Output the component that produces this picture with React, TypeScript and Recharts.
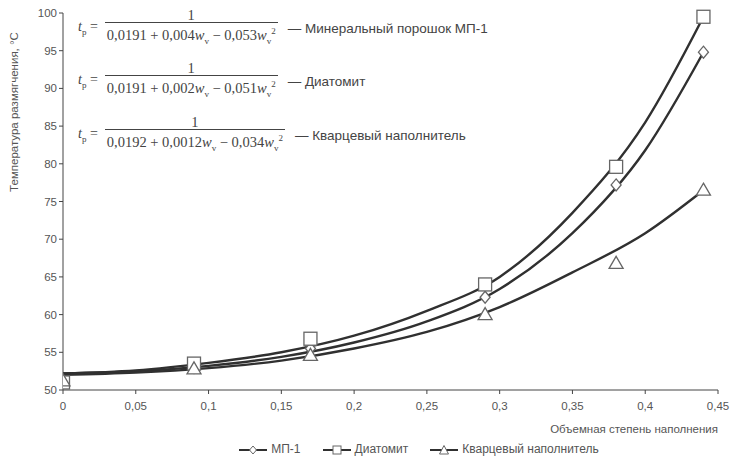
import React from 'react';
import { ComposedChart, Line, Scatter, XAxis, YAxis } from 'recharts';

// fitted curves
const curveX = [0, 0.05, 0.1, 0.15, 0.2, 0.25, 0.3, 0.35, 0.4, 0.44];
const mp1Curve = [52.2, 52.5, 53.2, 54.4, 56.3, 59.1, 63.4, 70.8, 81.8, 94.8];
const diatomCurve = [52.2, 52.6, 53.6, 55.0, 57.2, 60.5, 65.0, 73.5, 85.5, 99.5];
const quartzCurve = [52.0, 52.3, 52.9, 53.9, 55.5, 57.7, 61.0, 65.6, 70.8, 76.5];

// measured points
const pointX = [0, 0.09, 0.17, 0.29, 0.38, 0.44];
const mp1Points = [51.3, 53.0, 55.5, 62.3, 77.2, 94.8];
const diatomPoints = [51.0, 53.5, 56.8, 64.0, 79.6, 99.5];
const quartzPoints = [51.2, 52.8, 54.6, 60.0, 66.8, 76.5];

const xTicks = [0, 0.05, 0.1, 0.15, 0.2, 0.25, 0.3, 0.35, 0.4, 0.45];
const yTicks = [50, 55, 60, 65, 70, 75, 80, 85, 90, 95, 100];

const seriesNames = ['МП-1', 'Диатомит', 'Кварцевый наполнитель'];
const formulaLabels = ['Минеральный порошок МП-1', 'Диатомит', 'Кварцевый наполнитель'];
const denominators = [
  ['0,0191', '0,004', '0,053'],
  ['0,0191', '0,002', '0,051'],
  ['0,0192', '0,0012', '0,034'],
];

const toRows = (xs: number[], ys: number[]) => xs.map((x, i) => ({ x, y: ys[i] }));

const sans = '"Liberation Sans", Arial, sans-serif';
const serif = '"Liberation Serif", "DejaVu Serif", serif';
const lineColor = '#303030';
const markColor = '#666';
const textColor = '#555';

const Diamond = (p: any) => (
  <path d={`M${p.cx},${p.cy - 6} L${p.cx + 5},${p.cy} L${p.cx},${p.cy + 6} L${p.cx - 5},${p.cy} Z`}
    fill="#fff" stroke={markColor} strokeWidth={1.3} />
);
const Square = (p: any) => (
  <rect x={p.cx - 6.5} y={p.cy - 6.5} width={13} height={13} fill="#fff" stroke={markColor} strokeWidth={1.3} />
);
const Triangle = (p: any) => (
  <path d={`M${p.cx},${p.cy - 7} L${p.cx + 7},${p.cy + 5} L${p.cx - 7},${p.cy + 5} Z`}
    fill="#fff" stroke={markColor} strokeWidth={1.3} />
);

const legendIcon = (i: number) => {
  const mark = i === 0
    ? <path d="M14,2 L17.5,6 L14,10 L10.5,6 Z" fill="#fff" stroke={markColor} />
    : i === 1
      ? <rect x={10} y={2} width={8} height={8} fill="#fff" stroke={markColor} />
      : <path d="M14,1.5 L18.5,10 L9.5,10 Z" fill="#fff" stroke={markColor} />;
  return (
    <svg width={28} height={12} style={{ verticalAlign: 'middle', marginRight: 4 }}>
      <line x1={0} y1={6} x2={28} y2={6} stroke={lineColor} strokeWidth={2} />
      {mark}
    </svg>
  );
};

function Formula({ top, idx }: { top: number; idx: number }) {
  const d = denominators[idx];
  return (
    <div style={{ position: 'absolute', left: 78, top, display: 'flex', alignItems: 'center', color: '#444', whiteSpace: 'nowrap' }}>
      <span style={{ fontFamily: serif, fontSize: 14, marginRight: 7 }}>
        <i>t</i><sub style={{ fontSize: 9 }}>р</sub> =
      </span>
      <span style={{ display: 'inline-flex', flexDirection: 'column', alignItems: 'center', fontFamily: serif, fontSize: 14.5 }}>
        <span style={{ lineHeight: '14px' }}>1</span>
        <span style={{ borderTop: '1px solid #444', padding: '0 2px', lineHeight: '16px' }}>
          {d[0]} + {d[1]}<i>w</i><sub style={{ fontSize: 9 }}>v</sub> − {d[2]}<i>w</i><sub style={{ fontSize: 9 }}>v</sub><sup style={{ fontSize: 9 }}>2</sup>
        </span>
      </span>
      <span style={{ fontFamily: sans, fontSize: 13.5, marginLeft: 10 }}>— {formulaLabels[idx]}</span>
    </div>
  );
}

export default function App() {
  return (
    <div style={{ position: 'fixed', left: 0, top: 0, width: 738, height: 463, background: '#fff' }}>
      <ComposedChart width={738} height={463} margin={{ top: 13, right: 20, bottom: 43, left: 0 }}>
        <XAxis
          type="number"
          dataKey="x"
          domain={[0, 0.45]}
          ticks={xTicks}
          tickFormatter={(v) => String(v).replace('.', ',')}
          stroke="#444"
          tick={{ fill: textColor, fontSize: 11.5, fontFamily: sans }}
          tickSize={4}
          tickMargin={8}
          allowDataOverflow
          label={{
            content: () => (
              <text x={718} y={433} textAnchor="end" fill={textColor} fontSize={11.5} fontFamily={sans}>
                Объемная степень наполнения
              </text>
            ),
          }}
        />
        <YAxis
          type="number"
          domain={[50, 100]}
          ticks={yTicks}
          width={63}
          stroke="#444"
          tick={{ fill: textColor, fontSize: 11.5, fontFamily: sans }}
          tickSize={4}
          tickMargin={2}
          label={{
            content: () => (
              <text x={18} y={112} transform="rotate(-90 18 112)" textAnchor="middle" fill={textColor} fontSize={11.5} fontFamily={sans}>
                Температура размягчения, °С
              </text>
            ),
          }}
        />
        <Line data={toRows(curveX, diatomCurve)} dataKey="y" type="monotone" stroke={lineColor} strokeWidth={2.4} dot={false} isAnimationActive={false} legendType="none" />
        <Line data={toRows(curveX, mp1Curve)} dataKey="y" type="monotone" stroke={lineColor} strokeWidth={2.4} dot={false} isAnimationActive={false} legendType="none" />
        <Line data={toRows(curveX, quartzCurve)} dataKey="y" type="monotone" stroke={lineColor} strokeWidth={2.4} dot={false} isAnimationActive={false} legendType="none" />
        <Scatter data={toRows(pointX, mp1Points)} dataKey="y" shape={Diamond} isAnimationActive={false} />
        <Scatter data={toRows(pointX, diatomPoints)} dataKey="y" shape={Square} isAnimationActive={false} />
        <Scatter data={toRows(pointX, quartzPoints)} dataKey="y" shape={Triangle} isAnimationActive={false} />
      </ComposedChart>
      <div style={{ position: 'absolute', left: 0, width: 738, top: 442, display: 'flex', justifyContent: 'center', gap: 22, fontFamily: sans, fontSize: 12, color: textColor, paddingLeft: 100, boxSizing: 'border-box' }}>
        {seriesNames.map((n, i) => (
          <span key={n}>{legendIcon(i)}{n}</span>
        ))}
      </div>
      <Formula top={8} idx={0} />
      <Formula top={61} idx={1} />
      <Formula top={115} idx={2} />
    </div>
  );
}
